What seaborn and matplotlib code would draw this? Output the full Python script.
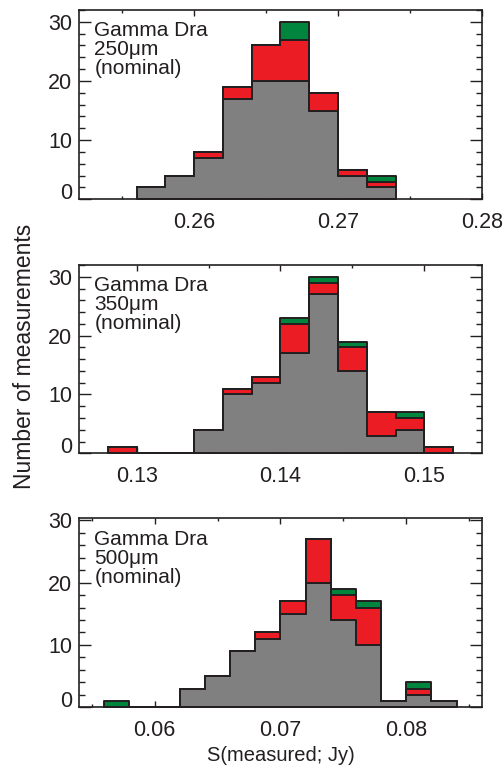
import numpy as np
import pandas as pd
import matplotlib
matplotlib.use("Agg")
import matplotlib.pyplot as plt
from matplotlib.ticker import MultipleLocator, FixedLocator, FixedFormatter
import seaborn as sns

# ---------------- data (counts per 0.002 Jy bin) ----------------
bins250 = [0.256, 0.258, 0.260, 0.262, 0.264, 0.266, 0.268, 0.270, 0.272, 0.274]
gray250 = [2, 4, 7, 17, 20, 20, 15, 4, 2]
red250 = [0, 0, 1, 2, 6, 7, 3, 1, 1]
green250 = [0, 0, 0, 0, 0, 3, 0, 0, 1]

bins350 = [0.128, 0.130, 0.132, 0.134, 0.136, 0.138, 0.140, 0.142, 0.144,
           0.146, 0.148, 0.150, 0.152]
gray350 = [0, 0, 0, 4, 10, 12, 17, 27, 14, 3, 4, 0]
red350 = [1, 0, 0, 0, 1, 1, 5, 2, 4, 4, 2, 1]
green350 = [0, 0, 0, 0, 0, 0, 1, 1, 1, 0, 1, 0]

bins500 = [0.056, 0.058, 0.060, 0.062, 0.064, 0.066, 0.068, 0.070, 0.072,
           0.074, 0.076, 0.078, 0.080, 0.082, 0.084]
gray500 = [0, 0, 0, 3, 5, 9, 11, 15, 20, 14, 10, 1, 2, 1]
red500 = [0, 0, 0, 0, 0, 0, 1, 2, 7, 4, 6, 0, 1, 0]
green500 = [1, 0, 0, 0, 0, 0, 0, 0, 0, 1, 1, 0, 1, 0]

panel_labels = ["Gamma Dra\n250\u03bcm\n(nominal)",
                "Gamma Dra\n350\u03bcm\n(nominal)",
                "Gamma Dra\n500\u03bcm\n(nominal)"]
xticks250 = [0.26, 0.27, 0.28]
xticks350 = [0.13, 0.14, 0.15]
xticks500 = [0.06, 0.07, 0.08]
yticks = [0, 10, 20, 30]

# ---------------- style ----------------
sns.set_style("ticks")
plt.rcParams["font.family"] = ["Liberation Sans", "DejaVu Sans"]
INK = "#231f20"
plt.rcParams.update({
    "text.color": INK, "axes.labelcolor": INK,
    "xtick.color": INK, "ytick.color": INK,
    "axes.edgecolor": INK, "axes.linewidth": 1.2,
})
palette = {"green": "#00853f", "red": "#ec1c24", "gray": "#808080"}

fig = plt.figure(figsize=(5.04, 7.69), dpi=100)
left, width = 0.157, 0.799
bottoms = [0.7408, 0.4105, 0.0802]
heights = [0.2462, 0.2449, 0.2458]

panels = [
    (bins250, gray250, red250, green250, xticks250, (0.252, 0.280), 32),
    (bins350, gray350, red350, green350, xticks350, (0.126, 0.154), 32),
    (bins500, gray500, red500, green500, xticks500, (0.054, 0.086), 30.3),
]

for i, (edges, g, r, gr, xt, xlim, ytop) in enumerate(panels):
    ax = fig.add_axes([left, bottoms[i], width, heights[i]])
    centers = [(edges[k] + edges[k + 1]) / 2 for k in range(len(edges) - 1)]
    df = pd.DataFrame({
        "S": centers * 3,
        "n": list(g) + list(r) + list(gr),
        "kind": ["gray"] * len(g) + ["red"] * len(r) + ["green"] * len(gr),
    })
    sns.histplot(data=df, x="S", weights="n", hue="kind", bins=edges,
                 multiple="stack", element="step",
                 hue_order=["green", "red", "gray"], palette=palette,
                 alpha=1, edgecolor=INK, linewidth=1.4, legend=False, ax=ax)
    ax.set_xlim(*xlim)
    ax.set_ylim(0, ytop)
    ax.set_xlabel("")
    ax.set_ylabel("")
    ax.xaxis.set_major_locator(FixedLocator(xt))
    ax.xaxis.set_major_formatter(FixedFormatter([f"{v:g}" for v in xt]))
    ax.xaxis.set_minor_locator(MultipleLocator(0.005))
    ax.yaxis.set_major_locator(FixedLocator(yticks))
    ax.yaxis.set_major_formatter(FixedFormatter([str(v) for v in yticks]))
    ax.yaxis.set_minor_locator(MultipleLocator(2))
    ax.tick_params(axis="both", which="both", direction="in",
                   top=True, right=True, labelsize=15.5, width=1.0)
    ax.tick_params(axis="x", which="major", length=4.2, pad=9)
    ax.tick_params(axis="x", which="minor", length=2.2)
    ax.tick_params(axis="y", which="major", length=8.6, pad=5)
    ax.tick_params(axis="y", which="minor", length=4.3)
    for s in ax.spines.values():
        s.set_zorder(5)
    # "0" label sits on the bottom axis line
    ax.yaxis.get_major_ticks()[0].label1.set_verticalalignment("baseline")
    ax.text(0.038, 0.94, panel_labels[i], transform=ax.transAxes,
            ha="left", va="top", fontsize=15, linespacing=1.0, color=INK)

fig.text(0.048, 0.537, "Number of measurements", rotation=90,
         ha="center", va="center", fontsize=16.5, color=INK)
fig.text(0.557, 0.018, "S(measured; Jy)", ha="center", va="center",
         fontsize=14.5, color=INK)

fig.savefig("out.png", dpi=100)
